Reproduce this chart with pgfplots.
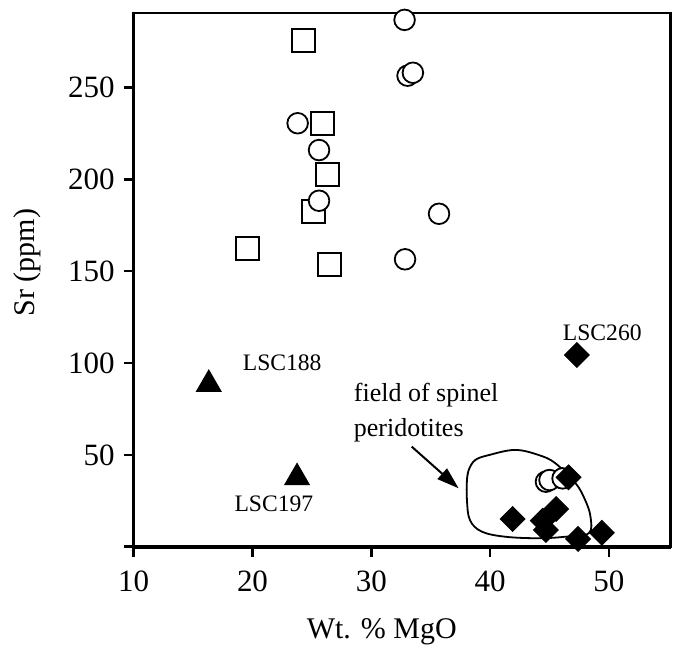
\documentclass[border=0pt]{standalone}
\usepackage{fontspec}
\setmainfont{Liberation Serif}
\usepackage{pgfplots}
\pgfplotsset{compat=1.18}
\usetikzlibrary{arrows.meta}
\begin{document}
\begin{tikzpicture}
\useasboundingbox (-66.85pt,-52.65pt) rectangle (271.65pt,273.35pt);
\begin{axis}[
  scale only axis, width=268.5pt, height=266.9pt,
  at={(0,0)}, anchor=south west,
  xmin=10, xmax=55.2, ymin=0, ymax=290.7,
  xtick={10,20,30,40,50}, ytick={0,50,100,150,200,250},
  yticklabels={,50,100,150,200,250},
  tick pos=left,
  tick align=outside, major tick length=5pt,
  tick style={line width=1.2pt, black},
  axis line style={line width=1.2pt},
  every tick label/.append style={font=\fontsize{15.5}{18}\selectfont},
  /pgf/number format/assume math mode=true,
  xticklabel style={yshift=-3.5pt},
  yticklabel style={xshift=-1pt},
  xlabel={Wt. \% MgO}, ylabel={Sr (ppm)},
  label style={font=\fontsize{15}{18}\selectfont},
  xlabel style={at={(axis description cs:0.462,-0.16)}, anchor=center},
  ylabel style={at={(axis description cs:-0.199,0.532)}, anchor=center},
  clip=false,
]
\draw[line width=2pt] (rel axis cs:0,0) -- (rel axis cs:1,0);
% field of spinel peridotites outline
\addplot[black, line width=0.9pt, smooth, tension=0.6, mark=none] coordinates {
(38.05,36.3) (38.2,41.8) (38.75,47.2) (39.9,49.9) (42.1,52.7) (44.1,49.9)
(45.5,45.4) (47.2,34.5) (48.0,25.4) (48.45,16.3) (48.3,7.3) (46.3,5.4)
(44.1,4.6) (41.3,5.4) (39.3,8.2) (38.3,14.5) (38.05,25.4) (38.05,36.3) (38.2,41.8)
};
% squares
\addplot[only marks, mark=square, mark size=5.75pt, mark options={line width=1pt, fill=white, draw=black}] coordinates {
(24.3,275.6) (25.89,230.6) (26.3,202.7) (25.16,182.6) (19.57,162.3) (26.5,153.6)
};
% circles
\addplot[only marks, mark=*, mark size=5.15pt, mark options={line width=0.9pt, fill=white, draw=black}] coordinates {
(32.8,286.9) (33.05,256.5) (33.5,258.1) (23.8,230.6) (25.6,216) (25.6,188.4)
(35.7,181.3) (32.84,156.5) (44.7,35.4) (45.0,36.3) (46.1,37.2)
};
% triangles
\addplot[only marks, mark=triangle*, mark size=7.2pt, mark options={fill=black, draw=black}] coordinates {
(16.32,88.4) (23.75,37.6)
};
% diamonds
\addplot[only marks, mark=square*, mark size=4.4pt, mark options={rotate=45, fill=black, draw=black}] coordinates {
(47.3,104.4) (46.6,37.8) (41.9,15.1) (45.56,20.5) (44.43,14.2) (44.7,9.1) (47.4,4.2) (49.4,7.6)
};
\node[font=\fontsize{11.8}{14}\selectfont] at (axis cs:22.5,100.2) {LSC188};
\node[font=\fontsize{11.8}{14}\selectfont] at (axis cs:21.8,23.4) {LSC197};
\node[font=\fontsize{11.8}{14}\selectfont] at (axis cs:49.44,116.7) {LSC260};
\node[font=\fontsize{13}{17.5}\selectfont, align=left, anchor=north west, inner sep=0pt] at (axis cs:28.5,89.5) {field of spinel\\peridotites};
\draw[line width=1pt, -{Triangle[length=11pt,width=7pt]}] (axis cs:33.4,54.5) -- (axis cs:37.35,31.8);
\end{axis}
\end{tikzpicture}
\end{document}
